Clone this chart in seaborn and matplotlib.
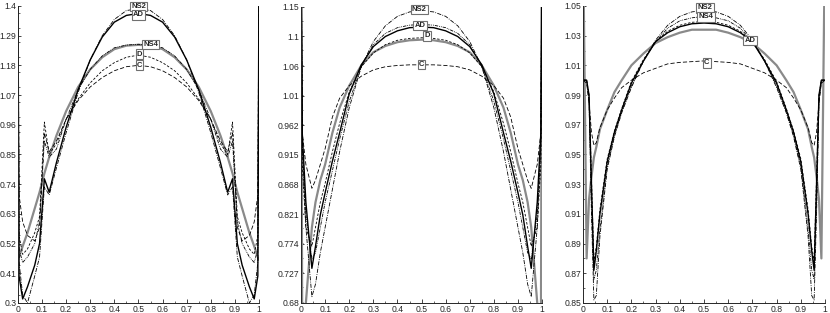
"""
Three-panel comparison of scheme profiles (NS2, NS4, AD, D, C) against a reference curve
"""

import matplotlib
matplotlib.use("Agg")
import matplotlib.pyplot as plt
import seaborn as sns
from matplotlib.ticker import MultipleLocator

# --- panel 1 data ---
X1 = [0, 0.005, 0.02, 0.04, 0.07, 0.09, 0.11, 0.13, 0.16, 0.2, 0.25, 0.3, 0.35, 0.4, 0.45, 0.5,
      0.55, 0.6, 0.65, 0.7, 0.75, 0.8, 0.84, 0.87, 0.89, 0.91, 0.93, 0.96, 0.98, 0.995, 1.0]
REF1 = [0.46, 0.47, 0.51, 0.56, 0.65, 0.71, 0.78, 0.84, 0.92, 1.01, 1.10, 1.165, 1.21, 1.24, 1.253, 1.256,
        1.253, 1.24, 1.21, 1.165, 1.10, 1.01, 0.92, 0.84, 0.78, 0.71, 0.65, 0.56, 0.51, 0.47, 0.46]
AD1 = [1.6, 0.4, 0.315, 0.36, 0.44, 0.52, 0.76, 0.71, 0.82, 0.95, 1.09, 1.2, 1.285, 1.34, 1.365, 1.372,
       1.365, 1.34, 1.285, 1.2, 1.09, 0.95, 0.82, 0.71, 0.76, 0.52, 0.44, 0.36, 0.315, 0.4, 1.6]
NS2_1 = [1.6, 0.45, 0.33, 0.3, 0.4, 0.47, 0.73, 0.7, 0.8, 0.93, 1.08, 1.2, 1.29, 1.35, 1.383, 1.39,
         1.383, 1.35, 1.29, 1.2, 1.08, 0.93, 0.8, 0.7, 0.73, 0.47, 0.4, 0.3, 0.33, 0.45, 1.6]
NS4_1 = [1.6, 0.5, 0.45, 0.47, 0.52, 0.6, 0.9, 0.84, 0.87, 0.98, 1.09, 1.165, 1.215, 1.245, 1.255, 1.258,
         1.255, 1.245, 1.215, 1.165, 1.09, 0.98, 0.87, 0.84, 0.9, 0.6, 0.52, 0.47, 0.45, 0.5, 1.6]
D1 = [1.6, 0.55, 0.48, 0.5, 0.56, 0.62, 0.97, 0.85, 0.89, 0.98, 1.055, 1.115, 1.16, 1.19, 1.21, 1.218,
      1.21, 1.19, 1.16, 1.115, 1.055, 0.98, 0.89, 0.85, 0.97, 0.62, 0.56, 0.5, 0.48, 0.55, 1.6]
C1 = [1.6, 0.7, 0.6, 0.55, 0.53, 0.58, 0.93, 0.86, 0.9, 0.98, 1.05, 1.1, 1.135, 1.16, 1.175, 1.18,
      1.175, 1.16, 1.135, 1.1, 1.05, 0.98, 0.9, 0.86, 0.93, 0.58, 0.53, 0.55, 0.6, 0.7, 1.6]

# --- panel 2 data ---
X2 = [0, 0.005, 0.02, 0.045, 0.06, 0.08, 0.1, 0.13, 0.16, 0.2, 0.25, 0.3, 0.35, 0.4, 0.45, 0.5,
      0.55, 0.6, 0.65, 0.7, 0.75, 0.8, 0.84, 0.87, 0.9, 0.92, 0.94, 0.955, 0.98, 0.995, 1.0]
REF2 = [1.3, 0.6, 0.68, 0.8, 0.84, 0.875, 0.9, 0.95, 0.99, 1.025, 1.057, 1.078, 1.088, 1.094, 1.097, 1.098,
        1.097, 1.094, 1.088, 1.078, 1.057, 1.025, 0.99, 0.95, 0.9, 0.875, 0.84, 0.8, 0.68, 0.6, 1.3]
AD2 = [1.3, 0.95, 0.84, 0.735, 0.77, 0.82, 0.855, 0.905, 0.95, 1.012, 1.058, 1.087, 1.103, 1.112, 1.117, 1.118,
       1.117, 1.112, 1.103, 1.087, 1.058, 1.012, 0.95, 0.905, 0.855, 0.82, 0.77, 0.735, 0.84, 0.95, 1.3]
NS2_2 = [1.3, 0.93, 0.8, 0.69, 0.71, 0.76, 0.8, 0.86, 0.92, 0.99, 1.055, 1.095, 1.12, 1.135, 1.142, 1.144,
         1.142, 1.135, 1.12, 1.095, 1.055, 0.99, 0.92, 0.86, 0.8, 0.76, 0.71, 0.69, 0.8, 0.93, 1.3]
NS4_2 = [1.3, 0.94, 0.82, 0.75, 0.76, 0.8, 0.84, 0.89, 0.94, 1.0, 1.055, 1.09, 1.108, 1.117, 1.121, 1.122,
         1.121, 1.117, 1.108, 1.09, 1.055, 1.0, 0.94, 0.89, 0.84, 0.8, 0.76, 0.75, 0.82, 0.94, 1.3]
D2 = [1.3, 0.9, 0.8, 0.77, 0.8, 0.84, 0.87, 0.92, 0.965, 1.015, 1.055, 1.077, 1.09, 1.097, 1.1, 1.101,
      1.1, 1.097, 1.09, 1.077, 1.055, 1.015, 0.965, 0.92, 0.87, 0.84, 0.8, 0.77, 0.8, 0.9, 1.3]
C2 = [1.3, 0.95, 0.9, 0.862, 0.875, 0.9, 0.925, 0.975, 1.005, 1.025, 1.04, 1.05, 1.055, 1.057, 1.058, 1.058,
      1.058, 1.057, 1.055, 1.05, 1.04, 1.025, 1.005, 0.975, 0.925, 0.9, 0.875, 0.862, 0.9, 0.95, 1.3]

# --- panel 3 data ---
X3 = [0, 0.015, 0.025, 0.035, 0.045, 0.055, 0.07, 0.1, 0.13, 0.16, 0.2, 0.25, 0.3, 0.35, 0.4, 0.45, 0.5,
      0.55, 0.6, 0.65, 0.7, 0.75, 0.8, 0.84, 0.87, 0.9, 0.93, 0.945, 0.955, 0.965, 0.975, 0.985, 1.0]
REF3 = [1.1, 0.88, 0.92, 0.935, 0.948, 0.955, 0.967, 0.98, 0.992, 1.0, 1.01, 1.018, 1.025, 1.029, 1.032, 1.034, 1.034,
        1.034, 1.032, 1.029, 1.025, 1.018, 1.01, 1.0, 0.992, 0.98, 0.967, 0.955, 0.948, 0.935, 0.92, 0.88, 1.1]
AD3 = [1.0, 1.0, 0.99, 0.93, 0.872, 0.885, 0.91, 0.945, 0.965, 0.98, 0.998, 1.013, 1.026, 1.032, 1.036, 1.038, 1.0385,
       1.038, 1.036, 1.032, 1.026, 1.013, 0.998, 0.98, 0.965, 0.945, 0.91, 0.885, 0.872, 0.93, 0.99, 1.0, 1.0]
NS2_3 = [1.0, 1.0, 0.985, 0.91, 0.852, 0.855, 0.895, 0.94, 0.962, 0.978, 0.995, 1.013, 1.027, 1.037, 1.043, 1.046, 1.047,
         1.046, 1.043, 1.037, 1.027, 1.013, 0.995, 0.978, 0.962, 0.94, 0.895, 0.855, 0.852, 0.91, 0.985, 1.0, 1.0]
NS4_3 = [1.0, 1.0, 0.988, 0.92, 0.866, 0.872, 0.9, 0.942, 0.963, 0.979, 0.996, 1.013, 1.026, 1.035, 1.04, 1.042, 1.043,
         1.042, 1.04, 1.035, 1.026, 1.013, 0.996, 0.979, 0.963, 0.942, 0.9, 0.872, 0.866, 0.92, 0.988, 1.0, 1.0]
D3 = [1.0, 1.0, 0.99, 0.935, 0.878, 0.888, 0.913, 0.947, 0.966, 0.981, 0.999, 1.014, 1.026, 1.033, 1.037, 1.039, 1.0395,
      1.039, 1.037, 1.033, 1.026, 1.014, 0.999, 0.981, 0.966, 0.947, 0.913, 0.888, 0.878, 0.935, 0.99, 1.0, 1.0]
C3 = [1.0, 0.998, 0.985, 0.965, 0.956, 0.958, 0.968, 0.98, 0.988, 0.995, 1.0, 1.005, 1.008, 1.011, 1.012, 1.0125, 1.013,
      1.0125, 1.012, 1.011, 1.008, 1.005, 1.0, 0.995, 0.988, 0.98, 0.968, 0.958, 0.956, 0.965, 0.985, 0.998, 1.0]

# --- axis ticks ---
XTICKS = [0, 0.1, 0.2, 0.3, 0.4, 0.5, 0.6, 0.7, 0.8, 0.9, 1.0]
XTICK_LABELS = ["0", "0.1", "0.2", "0.3", "0.4", "0.5", "0.6", "0.7", "0.8", "0.9", "1"]
YTICKS1 = [0.3, 0.41, 0.52, 0.63, 0.74, 0.85, 0.96, 1.07, 1.18, 1.29, 1.4]
YLABELS1 = ["0.3", "0.41", "0.52", "0.63", "0.74", "0.85", "0.96", "1.07", "1.18", "1.29", "1.4"]
YTICKS2 = [0.68, 0.727, 0.774, 0.821, 0.868, 0.915, 0.962, 1.009, 1.056, 1.103, 1.15]
YLABELS2 = ["0.68", "0.727", "0.774", "0.821", "0.868", "0.915", "0.962", "1.01", "1.06", "1.1", "1.15"]
YTICKS3 = [0.85, 0.87, 0.89, 0.91, 0.93, 0.95, 0.97, 0.99, 1.01, 1.03, 1.05]
YLABELS3 = ["0.85", "0.87", "0.89", "0.91", "0.93", "0.95", "0.97", "0.99", "1.01", "1.03", "1.05"]

# --- curve labels (text, x, y) per panel ---
TAGS1 = [("NS2", 0.5, 1.398), ("AD", 0.5, 1.367), ("NS4", 0.55, 1.256), ("D", 0.504, 1.222), ("C", 0.504, 1.181)]
TAGS2 = [("NS2", 0.491, 1.146), ("AD", 0.494, 1.121), ("D", 0.523, 1.104), ("C", 0.5, 1.058)]
TAGS3 = [("NS2", 0.504, 1.0487), ("NS4", 0.508, 1.0426), ("AD", 0.69, 1.0268), ("C", 0.512, 1.0116)]

STYLES = {
    "REF": dict(color="#8a8a8a", linewidth=1.6, linestyle="-"),
    "AD": dict(color="black", linewidth=1.0, linestyle="-"),
    "NS2": dict(color="black", linewidth=0.6, linestyle=(0, (5, 1.5, 1, 1.5))),
    "NS4": dict(color="black", linewidth=0.6, linestyle=(0, (4, 1.2, 1, 1.2, 1, 1.2))),
    "D": dict(color="black", linewidth=0.6, linestyle=(0, (3, 2))),
    "C": dict(color="black", linewidth=0.6, linestyle=(0, (5, 2.5))),
}

sns.set_style("ticks")
plt.rcParams["font.family"] = ["Liberation Sans", "DejaVu Sans"]

fig = plt.figure(figsize=(8.3, 3.13), dpi=100)
rects = [(0.0215, 0.032, 0.2906, 0.949), (0.3627, 0.032, 0.2904, 0.946), (0.7024, 0.032, 0.2916, 0.949)]

panels = [
    (X1, {"REF": REF1, "C": C1, "D": D1, "NS4": NS4_1, "NS2": NS2_1, "AD": AD1}, YTICKS1, YLABELS1, TAGS1),
    (X2, {"REF": REF2, "C": C2, "D": D2, "NS4": NS4_2, "NS2": NS2_2, "AD": AD2}, YTICKS2, YLABELS2, TAGS2),
    (X3, {"REF": REF3, "C": C3, "D": D3, "NS4": NS4_3, "NS2": NS2_3, "AD": AD3}, YTICKS3, YLABELS3, TAGS3),
]

for rect, (xs, curves, yt, yl, tags) in zip(rects, panels):
    ax = fig.add_axes(rect)
    for name, ys in curves.items():
        sns.lineplot(x=xs, y=ys, ax=ax, estimator=None, sort=False, **STYLES[name])
    ax.set_xlim(0, 1)
    ax.set_ylim(yt[0], yt[-1])
    ax.set_xticks(XTICKS)
    ax.set_xticklabels(XTICK_LABELS)
    ax.set_yticks(yt)
    ax.set_yticklabels(yl)
    ax.xaxis.set_minor_locator(MultipleLocator(0.05))
    ax.yaxis.set_minor_locator(MultipleLocator((yt[1] - yt[0]) / 2))
    ax.tick_params(axis="x", which="major", direction="in", length=3, width=0.6, labelsize=6.2, pad=1.5)
    ax.tick_params(axis="x", which="minor", direction="in", length=1.5, width=0.5)
    ax.tick_params(axis="y", which="major", direction="in", length=2.5, width=0.6, labelsize=6.2, pad=1.2)
    ax.tick_params(axis="y", which="minor", direction="in", length=1.2, width=0.5)
    sns.despine(ax=ax)
    for side in ("left", "bottom"):
        ax.spines[side].set_linewidth(0.7)
    ax.set_xlabel("")
    ax.set_ylabel("")
    for s, tx, ty in tags:
        ax.text(tx, ty, s, ha="center", va="center", fontsize=5.5, fontweight="bold",
                bbox=dict(boxstyle="square,pad=0.15", fc="white", ec="#707070", lw=0.8), zorder=5)

fig.savefig("out.png", dpi=100)
